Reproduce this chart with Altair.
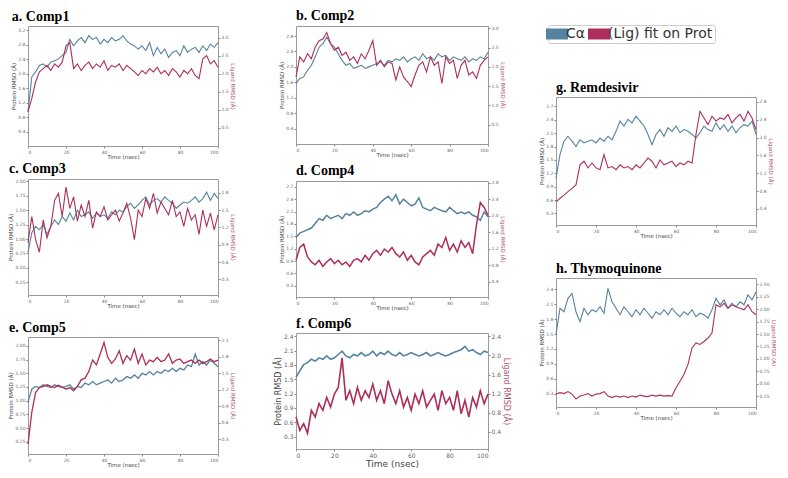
import altair as alt
import pandas as pd

TIME = list(range(0, 101, 2))
X_TICKS = [0, 20, 40, 60, 80, 100]
SERIES = ["Cα", "(Lig) fit on Prot"]
COLORS = ["#55829e", "#ad2e5a"]

A_PROT = [0.95,1.91,2.05,2.23,2.27,2.18,2.32,2.36,2.41,2.50, 2.59,2.95,2.77,2.91,3.00,2.86,3.05,2.95,3.00,2.82,
          2.95,2.86,3.00,2.91,2.95,3.05,2.91,2.82,2.77,2.68, 2.77,2.64,2.86,2.50,2.73,2.55,2.68,2.45,2.59,2.64,
          2.50,2.77,2.59,2.68,2.73,2.59,2.77,2.64,2.82,2.73, 2.86]
A_LIG = [0.95,1.32,1.77,2.05,2.14,2.23,2.09,2.27,2.18,2.32, 2.77,2.86,2.14,2.27,2.09,2.23,2.32,2.14,2.27,2.18,
         2.36,2.09,2.23,2.18,2.27,2.09,2.23,2.14,2.05,1.95, 2.09,2.00,2.14,2.05,2.18,2.00,2.09,1.95,2.14,2.05,
         1.91,2.09,2.00,2.14,1.95,1.86,2.41,2.50,2.27,2.36, 2.18]
B_PROT = [1.57,1.70,1.74,1.91,2.04,2.26,2.51,2.60,2.77,2.60, 2.51,2.34,2.17,2.04,2.09,1.96,2.00,2.04,1.96,2.00,
          2.04,2.09,2.13,2.04,2.17,2.13,2.21,2.17,2.26,2.13, 2.21,2.26,2.17,2.34,2.21,2.26,2.17,2.34,2.26,2.30,
          2.17,2.26,2.21,2.17,2.26,2.13,2.21,2.17,2.26,2.21, 2.38]
B_LIG = [1.74,2.26,2.13,2.34,2.21,2.51,2.68,2.72,2.89,2.60, 2.43,2.51,2.30,2.38,2.17,2.26,2.09,2.34,2.21,2.43,
         2.68,2.04,2.17,2.00,2.13,2.09,1.66,2.00,1.74,1.62, 1.49,1.79,2.04,2.13,1.87,2.26,2.04,2.13,1.57,2.26,
         2.09,2.17,1.70,2.04,2.17,1.79,1.87,1.70,2.04,2.17, 2.26]
C_PROT = [0.77,1.11,1.22,1.16,1.25,1.08,1.22,1.33,1.25,1.39, 1.31,1.45,1.33,1.50,1.39,1.42,1.47,1.36,1.45,1.39,
          1.42,1.36,1.47,1.42,1.50,1.47,1.56,1.62,1.53,1.59, 1.67,1.73,1.59,1.67,1.70,1.64,1.73,1.67,1.62,1.53,
          1.59,1.64,1.62,1.67,1.73,1.64,1.70,1.81,1.67,1.79, 1.70]
C_LIG = [0.94,1.39,0.99,0.77,1.33,1.02,1.22,1.67,1.79,1.39, 1.90,1.53,1.73,1.31,1.59,1.39,1.67,1.19,1.47,1.39,
         1.56,1.33,1.42,1.50,1.31,1.45,1.62,1.36,0.99,1.50, 1.39,1.70,1.53,1.79,1.45,1.64,1.53,1.42,1.67,1.39,
         1.47,1.22,1.53,1.33,1.42,1.08,1.50,1.22,1.45,1.16, 1.42]
D_PROT = [1.47,1.58,1.62,1.66,1.70,1.81,1.93,1.89,2.01,1.93, 1.97,2.01,1.93,2.05,2.01,2.09,2.01,2.05,2.12,2.09,
          2.16,2.20,2.32,2.40,2.47,2.36,2.51,2.28,2.40,2.32, 2.24,2.28,2.43,2.20,2.16,2.12,2.20,2.16,2.12,2.09,
          2.20,2.12,2.05,2.09,2.05,2.09,2.01,1.97,1.89,2.09, 1.97]
D_LIG = [0.92,1.23,1.31,1.00,0.88,0.81,0.92,0.77,0.88,0.96, 0.84,0.92,0.81,0.88,0.77,0.92,0.96,0.88,1.04,0.92,
         1.08,1.16,1.04,1.19,1.12,1.23,1.08,1.00,1.12,0.92, 1.04,0.88,0.81,1.00,1.08,1.16,1.04,1.31,1.23,1.47,
         1.16,1.31,1.12,1.39,1.23,1.35,1.08,1.78,2.32,2.20, 2.01]
E_PROT = [0.97,1.21,1.26,1.24,1.29,1.26,1.24,1.29,1.26,1.24, 1.26,1.29,1.21,1.26,1.24,1.32,1.29,1.35,1.29,1.32,
          1.35,1.38,1.32,1.41,1.35,1.38,1.44,1.41,1.47,1.41, 1.50,1.47,1.53,1.47,1.53,1.50,1.56,1.53,1.59,1.53,
          1.59,1.56,1.65,1.62,1.85,1.65,1.71,1.65,1.74,1.68, 1.62]
E_LIG = [0.21,0.79,1.15,1.24,1.26,1.29,1.26,1.24,1.28,1.25, 1.21,1.24,1.18,1.26,1.38,1.41,1.53,1.74,1.65,1.85,
         2.06,1.79,1.68,1.76,1.91,1.68,1.82,1.74,1.94,1.68, 1.85,1.65,1.74,1.71,1.79,1.71,1.74,1.85,1.68,1.74,
         1.76,1.68,1.71,1.74,1.68,1.74,1.68,1.71,1.76,1.71, 1.74]
F_PROT = [1.54,1.68,1.81,1.85,1.92,1.88,1.95,1.92,1.99,1.92, 1.95,2.02,2.09,1.99,1.95,2.02,1.99,2.06,1.99,2.02,
          2.09,1.99,2.06,2.02,2.09,2.02,1.99,2.06,1.99,2.02, 2.06,2.02,1.99,2.02,2.06,1.99,2.02,2.06,2.02,1.99,
          2.02,2.06,2.09,2.12,2.19,2.09,2.12,2.06,2.02,2.09, 2.06]
F_LIG = [0.71,0.43,0.57,0.37,0.85,0.71,0.99,0.85,1.12,0.92, 1.19,1.33,1.95,1.06,1.26,0.99,1.33,1.06,1.26,1.12,
         1.40,1.06,1.26,0.99,1.47,1.19,0.99,1.26,0.92,1.12, 0.85,1.19,0.99,1.26,0.92,1.06,1.19,0.85,1.26,0.99,
         1.12,0.85,1.26,0.78,1.06,0.71,1.12,0.92,1.26,0.99, 1.19]
G_PROT = [1.09,1.62,1.92,2.03,1.92,1.80,1.95,1.88,1.92,1.95, 1.88,1.99,1.92,2.03,1.95,2.14,2.37,2.26,2.41,2.33,
          2.48,2.37,2.26,2.07,1.84,2.07,2.18,2.03,2.22,2.14, 2.26,2.11,2.18,2.14,2.07,1.99,2.11,2.26,2.18,2.14,
          2.33,2.18,2.29,2.14,2.26,2.11,2.22,2.29,2.26,2.37, 2.07]
G_LIG = [0.56,0.64,0.71,0.79,0.86,0.94,1.39,1.47,1.32,1.43, 1.32,1.28,1.62,1.32,1.35,1.28,1.39,1.32,1.35,1.28,
         1.39,1.32,1.43,1.54,1.47,1.32,1.50,1.39,1.43,1.47, 1.35,1.43,1.39,1.47,1.43,2.07,2.59,2.44,2.29,2.48,
         2.37,2.44,2.41,2.52,2.33,2.44,2.52,2.37,2.59,2.44, 2.18]
H_PROT = [1.49,2.02,1.95,2.22,2.32,1.95,1.75,2.02,1.89,1.99, 1.95,2.05,1.92,2.42,2.15,2.02,1.89,2.05,1.95,1.85,
          1.99,1.89,2.02,1.92,1.82,1.95,1.89,1.99,1.89,2.02, 1.92,1.85,1.95,1.89,1.99,1.85,1.92,1.89,1.82,1.99,
          2.22,2.09,2.19,2.02,2.12,2.05,2.15,2.09,2.29,2.19, 2.35]
H_LIG = [0.29,0.32,0.30,0.34,0.29,0.19,0.25,0.27,0.30,0.25, 0.29,0.30,0.34,0.25,0.22,0.25,0.23,0.25,0.22,0.25,
         0.23,0.27,0.25,0.24,0.27,0.25,0.27,0.25,0.26,0.25, 0.42,0.55,0.69,0.89,1.22,1.32,1.29,1.35,1.42,1.52,
         2.09,2.05,2.12,2.02,2.09,2.05,2.02,1.99,2.09,1.95, 1.89]

RECT_PATH = "M-2,-1L2,-1L2,1L-2,1Z"
LEGEND = alt.Legend(title=None, orient="none", legendX=520, legendY=-1, direction="horizontal",
                    symbolType=RECT_PATH, symbolSize=121, symbolStrokeWidth=0,
                    labelFontSize=14, labelFont="DejaVu Sans", labelColor="#333333",
                    strokeColor="#cccccc", padding=2, columnPadding=2, rowPadding=0, labelOffset=2,
                    cornerRadius=2, gridAlign="none")

SCALE = alt.Scale(domain=SERIES, range=COLORS)


def panel(name, blue, red, ldom, lticks, rdom, rticks, w, h, frame="group", big=False, lfmt=".1f", rfmt=".1f",
          sw=1.1):
    df = pd.DataFrame({"t": TIME, "protein": blue, "ligand": red})
    lf = 6 if big else 4.5
    tf = 8 if big else 5.5
    xtf = 9 if big else 5.5
    xax = alt.Axis(title="Time (nsec)", values=X_TICKS, labelFontSize=lf, titleFontSize=xtf)
    base = alt.Chart(df).encode(x=alt.X("t:Q", scale=alt.Scale(domain=[0, 100], nice=False), axis=xax))
    prot = base.mark_line(strokeWidth=sw, color=COLORS[0]).encode(
        y=alt.Y("protein:Q", scale=alt.Scale(domain=ldom, nice=False, zero=False),
                axis=alt.Axis(title="Protein RMSD (Å)", orient="left", values=lticks, format=lfmt,
                              labelFontSize=lf, titleFontSize=tf)))
    lig = base.mark_line(strokeWidth=sw, color=COLORS[1]).encode(
        y=alt.Y("ligand:Q", scale=alt.Scale(domain=rdom, nice=False, zero=False),
                axis=alt.Axis(title="Ligand RMSD (Å)", orient="right", values=rticks, format=rfmt,
                              labelFontSize=lf, titleFontSize=tf, titleColor="#b0506f")))
    return alt.layer(prot, lig).resolve_scale(y="independent").properties(
        width=w, height=h,
        title=alt.TitleParams(name, anchor="start", frame=frame, fontSize=14, font="Liberation Serif",
                              fontWeight="bold", color="#000000", offset=2))


pa = panel("a. Comp1", A_PROT, A_LIG, [0, 3.32], [0.4, 0.8, 1.2, 1.6, 2.0, 2.4, 2.8, 3.2],
           [0, 3.32], [0.5, 1.0, 1.5, 2.0, 2.5, 3.0], 190, 120, frame="bounds")
pb = panel("b. Comp2", B_PROT, B_LIG, [0, 3.06], [0.4, 0.8, 1.2, 1.6, 2.0, 2.4, 2.8],
           [0, 3.06], [0.5, 1.0, 1.5, 2.0, 2.5, 3.0], 192, 118)
pc = panel("c. Comp3", C_PROT, C_LIG, [0.03, 2.04], [0.25, 0.5, 0.75, 1.0, 1.25, 1.5, 1.75, 2.0],
           [0.03, 2.04], [0.3, 0.6, 0.9, 1.2, 1.5, 1.8], 190, 116, frame="bounds", lfmt=".2f")
pd_ = panel("d. Comp4", D_PROT, D_LIG, [0.03, 2.84], [0.3, 0.6, 0.9, 1.2, 1.5, 1.8, 2.1, 2.4, 2.7],
            [0.03, 2.84], [0.4, 0.8, 1.2, 1.6, 2.0, 2.4, 2.8], 192, 116, sw=1.5)
pe = panel("e. Comp5", E_PROT, E_LIG, [0.03, 2.16], [0.25, 0.5, 0.75, 1.0, 1.25, 1.5, 1.75, 2.0],
           [0.03, 2.16], [0.3, 0.6, 0.9, 1.2, 1.5, 1.8, 2.1], 190, 117, frame="bounds", lfmt=".2f", sw=1.3)
pf = panel("f. Comp6", F_PROT, F_LIG, [0.04, 2.47], [0.3, 0.6, 0.9, 1.2, 1.5, 1.8, 2.1, 2.4],
           [0.04, 2.47], [0.4, 0.8, 1.2, 1.6, 2.0, 2.4], 192, 116, big=True, sw=1.6)
pg = panel("g. Remdesivir", G_PROT, G_LIG, [0.04, 2.91], [0.3, 0.6, 0.9, 1.2, 1.5, 1.8, 2.1, 2.4, 2.7],
           [0.04, 2.91], [0.4, 0.8, 1.2, 1.6, 2.0, 2.4, 2.8], 200, 128)
ph = panel("h. Thymoquinone", H_PROT, H_LIG, [0.03, 2.63], [0.3, 0.6, 0.9, 1.2, 1.5, 1.8, 2.1, 2.4],
           [0.03, 2.63], [0.25, 0.5, 0.75, 1.0, 1.25, 1.5, 1.75, 2.0, 2.25, 2.5], 200, 129, rfmt=".2f")

# spacer above panel g that carries the legend (its points fall outside its clipped scale)
spacer = alt.Chart(pd.DataFrame({"series": SERIES, "v": [0, 0]})).mark_point(
    filled=True, shape=RECT_PATH, clip=True, opacity=1
).encode(
    x=alt.X("v:Q", axis=None, scale=alt.Scale(domain=[1, 2])),
    y=alt.Y("v:Q", axis=None, scale=alt.Scale(domain=[1, 2])),
    color=alt.Color("series:N", scale=SCALE, legend=LEGEND)
).properties(width=100, height=44, view=alt.ViewBackground(stroke="transparent"))

col1 = alt.vconcat(pa, alt.vconcat(pc, pe, spacing=10), spacing=0)
col2 = alt.vconcat(alt.vconcat(pb, pd_, spacing=4), pf, spacing=4)
col3 = alt.vconcat(spacer, alt.vconcat(pg, ph, spacing=21), spacing=9)

chart = alt.hconcat(alt.hconcat(col1, col2, spacing=38), col3, spacing=28).properties(padding=0).configure_view(
    stroke="#9a9a9a", strokeWidth=1
).configure_axis(
    grid=False, domain=False, tickSize=2, tickColor="#888888", labelColor="#666666",
    titleColor="#444444", labelPadding=1, titlePadding=1, labelFont="DejaVu Sans",
    titleFont="DejaVu Sans", titleFontWeight="normal"
)

chart.save("out.html", embed_options={"renderer": "svg", "actions": False})
